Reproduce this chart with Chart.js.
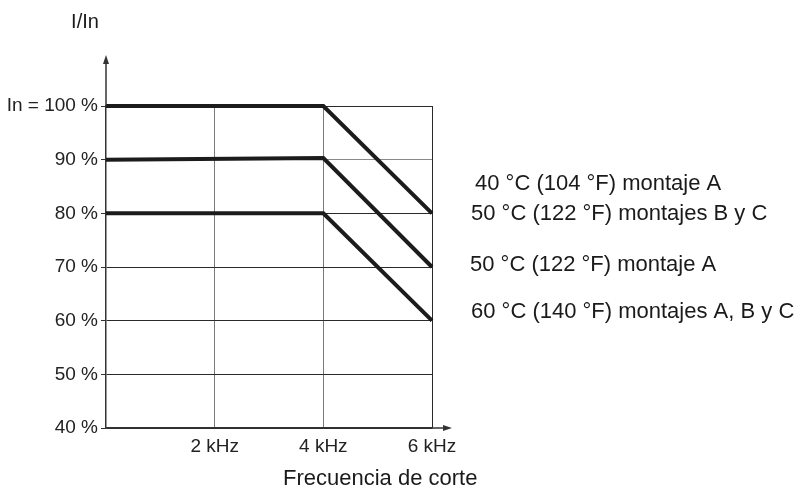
<!DOCTYPE html>
<html><head><meta charset="utf-8">
<script src="https://cdn.jsdelivr.net/npm/chart.js@4/dist/chart.umd.min.js"></script>
<style>html,body{margin:0;padding:0;background:#fff;}#wrap{width:805px;height:488px;}</style>
</head><body><div id="wrap"><canvas id="c" width="805" height="488"></canvas></div>
<script>
// ---- data ----
const frequencyKHz = [0, 4, 6];
const curve40A = [100, 100, 80];     // 40 °C montaje A / 50 °C montajes B y C
const curve50A = [90, 90.3, 70];     // 50 °C montaje A
const curve60 = [80, 80, 60];        // 60 °C montajes A, B y C
const yTickValues = [40, 50, 60, 70, 80, 90, 100];
const yTickLabels = ['40 %', '50 %', '60 %', '70 %', '80 %', '90 %', 'In = 100 %'];
const xTickValues = [2, 4, 6];
const xTickLabels = ['2 kHz', '4 kHz', '6 kHz'];
const curveNotes = ['40 °C (104 °F) montaje A', '50 °C (122 °F) montajes B y C', '50 °C (122 °F) montaje A', '60 °C (140 °F) montajes A, B y C'];
const yTitle = 'I/In';
const xTitle = 'Frecuencia de corte';

// ---- styling ----
const FONT = "'Liberation Sans', Arial, Helvetica, sans-serif";
const notePos = [[475, 184], [471, 214], [470, 265], [471, 312]];

function toPoints(ys) { return frequencyKHz.map((x, i) => ({ x: x, y: ys[i] })); }
function ds(ys) {
  return { data: toPoints(ys), borderColor: '#1c1c1c', borderWidth: 4, pointRadius: 0,
           tension: 0, borderJoinStyle: 'miter', borderCapStyle: 'butt', clip: false, fill: false };
}

const overlay = {
  id: 'overlay',
  afterDraw(chart) {
    const c = chart.ctx, a = chart.chartArea;
    c.save();
    c.strokeStyle = '#333'; c.fillStyle = '#333'; c.lineWidth = 1.5;
    // y axis extension + arrow
    c.beginPath(); c.moveTo(a.left, a.top); c.lineTo(a.left, a.top - 45); c.stroke();
    c.beginPath(); c.moveTo(a.left, a.top - 51); c.lineTo(a.left - 3, a.top - 42); c.lineTo(a.left + 3, a.top - 42); c.closePath(); c.fill();
    // x axis extension + arrow
    c.beginPath(); c.moveTo(a.right, a.bottom); c.lineTo(a.right + 14, a.bottom); c.stroke();
    c.beginPath(); c.moveTo(a.right + 20, a.bottom); c.lineTo(a.right + 11, a.bottom - 3); c.lineTo(a.right + 11, a.bottom + 3); c.closePath(); c.fill();
    // titles
    c.fillStyle = '#1a1a1a';
    c.textBaseline = 'middle';
    c.textAlign = 'center';
    c.font = '20px ' + FONT;
    c.fillText(yTitle, 85, 22);
    c.textAlign = 'left';
    c.font = '22px ' + FONT;
    c.fillText(xTitle, 283, 479);
    curveNotes.forEach((t, i) => c.fillText(t, notePos[i][0], notePos[i][1]));
    c.restore();
  }
};

new Chart(document.getElementById('c'), {
  type: 'line',
  data: { datasets: [ds(curve40A), ds(curve50A), ds(curve60)] },
  options: {
    responsive: false, animation: false,
    layout: { padding: { left: 0, top: 106, right: 373, bottom: 0 } },
    plugins: { legend: { display: false }, tooltip: { enabled: false } },
    scales: {
      x: {
        type: 'linear', min: 0, max: 6,
        afterFit(s) { s.height = 60; },
        afterBuildTicks(s) { s.ticks = xTickValues.map(v => ({ value: v })); },
        ticks: { color: '#222', font: { size: 19, family: FONT }, padding: 7, maxRotation: 0, autoSkip: false,
                 callback: (v) => { const i = xTickValues.indexOf(v); return i >= 0 ? xTickLabels[i] : ''; } },
        grid: { drawTicks: false, lineWidth: 1,
                color: (ctx) => (ctx.tick && ctx.tick.value === 6) ? '#2a2a2a' : '#7a7a7a' },
        border: { display: true, color: '#333', width: 1.5 }
      },
      y: {
        type: 'linear', min: 40, max: 100,
        afterFit(s) { s.width = 106; },
        afterBuildTicks(s) { s.ticks = yTickValues.map(v => ({ value: v })); },
        ticks: { color: '#222', font: { size: 19, family: FONT }, padding: 3, autoSkip: false,
                 callback: (v) => { const i = yTickValues.indexOf(v); return i >= 0 ? yTickLabels[i] : ''; } },
        grid: { drawTicks: true, tickLength: 5, lineWidth: 1, tickColor: '#333',
                color: (ctx) => (ctx.tick && ctx.tick.value === 90) ? '#8a8a8a' : '#2a2a2a' },
        border: { display: true, color: '#333', width: 1.5 }
      }
    }
  },
  plugins: [overlay]
});
</script></body></html>
